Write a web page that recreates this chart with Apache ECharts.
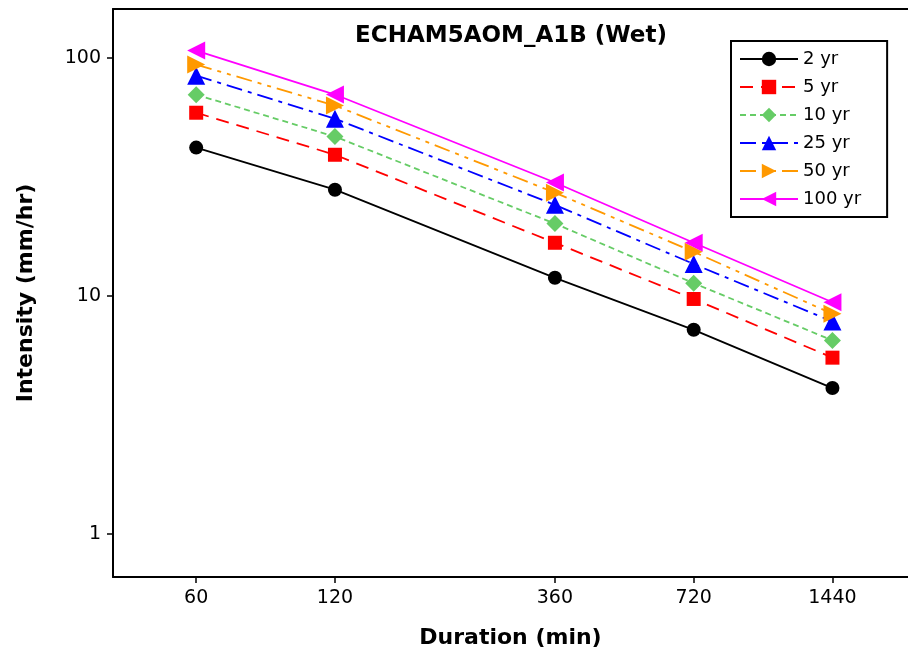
<!DOCTYPE html>
<html><head><meta charset="utf-8">
<script src="https://cdn.jsdelivr.net/npm/echarts@6/dist/echarts.min.js"></script>
<style>html,body{margin:0;padding:0;background:#fff}#c{width:908px;height:655px}</style>
</head><body><div id="c"></div>
<script>
const durations = [60, 120, 360, 720, 1440];
const yTicks = [1, 10, 100];
const seriesNames = ['2 yr', '5 yr', '10 yr', '25 yr', '50 yr', '100 yr'];
const yr2   = [41.9, 27.9, 11.9, 7.2, 4.1];
const yr5   = [58.7, 39.1, 16.7, 9.7, 5.5];
const yr10  = [69.9, 46.6, 20.1, 11.3, 6.5];
const yr25  = [84.0, 55.4, 24.1, 13.6, 7.8];
const yr50  = [93.5, 62.9, 27.1, 15.3, 8.4];
const yr100 = [107, 70.0, 29.9, 16.7, 9.4];

const values = [yr2, yr5, yr10, yr25, yr50, yr100];
const colors = ['#000000', '#ff0000', '#66cc66', '#0000ff', '#ff9900', '#ff00ff'];
const symbols = ['circle', 'rect', 'diamond', 'triangle', 'triangle', 'triangle'];
const rotates = [0, 0, 0, 0, -90, 90];
const sizes = [14, 14, 17, 18, 18, 18];
const dashes = ['solid', [13, 8], [6, 4], [16, 6, 4, 6], [16, 6, 4, 6, 4, 6], 'solid'];

const font = 'DejaVu Sans';
const chart = echarts.init(document.getElementById('c'));
chart.setOption({
  animation: false,
  textStyle: { fontFamily: font },
  title: {
    text: 'ECHAM5AOM_A1B (Wet)', left: 506, top: 20, textAlign: 'center',
    textStyle: { fontFamily: font, fontSize: 23, fontWeight: 'bold', color: '#000' }
  },
  legend: {
    orient: 'vertical', left: 731, top: 41, width: 157,
    padding: [9, 26, 9, 8], itemGap: 10, itemWidth: 58, itemHeight: 18,
    borderColor: '#000', borderWidth: 2, backgroundColor: '#fff',
    textStyle: { fontFamily: font, fontSize: 18, color: '#000' },
    data: seriesNames
  },
  grid: { left: 113, top: 9, right: 0, bottom: 78, show: false, containLabel: false },
  xAxis: [{
    type: 'log', min: 39.6, max: 2100,
    name: 'Duration (min)', nameLocation: 'middle', nameGap: 50,
    nameTextStyle: { fontFamily: font, fontSize: 22, fontWeight: 'bold', color: '#000' },
    axisLine: { lineStyle: { color: '#000', width: 2 } },
    axisTick: { customValues: durations, length: 6, lineStyle: { color: '#000', width: 1.5 } },
    axisLabel: { customValues: durations, fontSize: 19, color: '#000', margin: 12, formatter: v => String(Math.round(v)) },
    splitLine: { show: false }, minorTick: { show: false }
  }, {
    type: 'log', min: 39.6, max: 2100, position: 'top',
    axisLine: { show: true, lineStyle: { color: '#000', width: 2 } },
    axisTick: { show: false }, axisLabel: { show: false }, splitLine: { show: false }
  }],
  yAxis: {
    type: 'log', min: 0.66, max: 160,
    name: 'Intensity (mm/hr)', nameLocation: 'middle', nameGap: 76, nameRotate: 90,
    nameTextStyle: { fontFamily: font, fontSize: 22, fontWeight: 'bold', color: '#000' },
    axisLine: { lineStyle: { color: '#000', width: 2 } },
    axisTick: { customValues: yTicks, length: 6, lineStyle: { color: '#000', width: 1.5 } },
    axisLabel: { customValues: yTicks, fontSize: 19, color: '#000', margin: 12, formatter: v => String(Math.round(v)) },
    splitLine: { show: false }
  },
  series: seriesNames.map((n, i) => ({
    name: n, type: 'line',
    data: durations.map((d, j) => [d, values[i][j]]),
    symbol: symbols[i], symbolRotate: rotates[i], symbolSize: sizes[i],
    itemStyle: { color: colors[i] },
    lineStyle: { color: colors[i], width: 1.8, type: dashes[i] },
    z: 2 + i
  }))
});
</script></body></html>
